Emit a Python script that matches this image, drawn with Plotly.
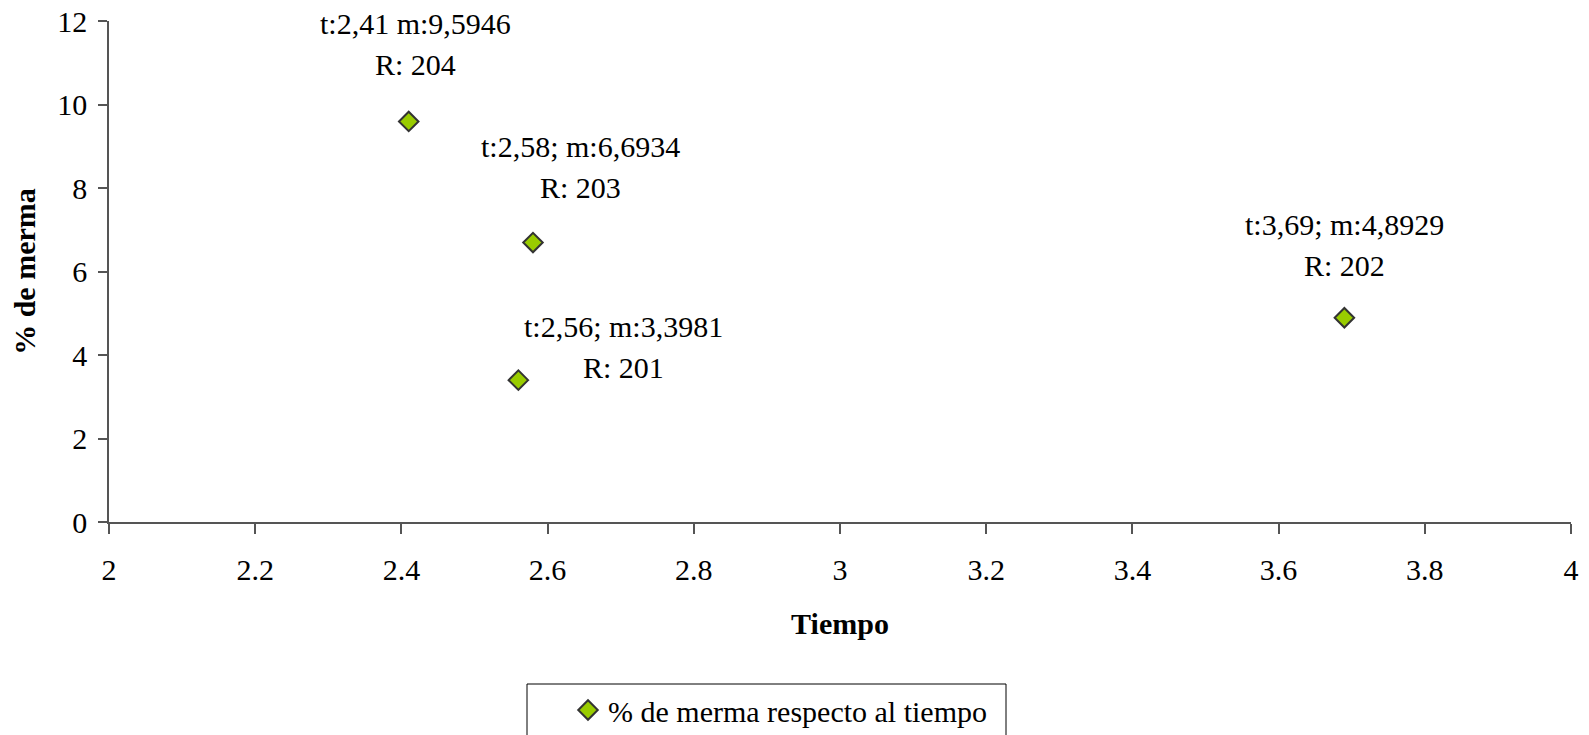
import plotly.graph_objects as go

tiempo = [2.41, 2.58, 2.56, 3.69]
merma = [9.5946, 6.6934, 3.3981, 4.8929]
etiquetas = ["t:2,41 m:9,5946<br>R: 204", "t:2,58; m:6,6934<br>R: 203",
             "t:2,56; m:3,3981<br>R: 201", "t:3,69; m:4,8929<br>R: 202"]
x_ticks = [2, 2.2, 2.4, 2.6, 2.8, 3, 3.2, 3.4, 3.6, 3.8, 4]
y_ticks = [0, 2, 4, 6, 8, 10, 12]

label_shift = [(7, 77), (48, 76), (105, 33), (0, 73)]
LINE_GAP = 41

FONT = "Times New Roman, Liberation Serif, serif"
FS = 30

fig = go.Figure()
fig.add_trace(go.Scatter(
    x=tiempo, y=merma, mode="markers",
    name="% de merma respecto al tiempo",
    marker=dict(symbol="diamond", size=15, color="#99CC00",
                line=dict(color="#333333", width=2)),
))

for xv, yv, txt, (dx, dy) in zip(tiempo, merma, etiquetas, label_shift):
    lines = txt.split("<br>")
    for i, ln in enumerate(lines):
        off = (len(lines) - 1) / 2 - i
        fig.add_annotation(x=xv, y=yv, xref="x", yref="y", text=ln, showarrow=False,
                           xshift=dx, yshift=dy + off * LINE_GAP,
                           xanchor="center", yanchor="middle",
                           font=dict(family=FONT, size=FS, color="black"))

# page coords: plot area left=109, top=21, bottom=522, width=1462, height=501
fig.add_shape(type="rect", xref="paper", yref="paper",
              x0=(527 - 109) / 1462, x1=(1006 - 109) / 1462,
              y0=(522 - 684) / 501, y1=(522 - 760) / 501,
              line=dict(color="black", width=1), fillcolor="rgba(0,0,0,0)")

fig.update_layout(
    width=1589, height=735,
    margin=dict(l=101, r=26, t=13, b=221, autoexpand=False),
    paper_bgcolor="white", plot_bgcolor="white",
    font=dict(family=FONT, size=FS, color="black"),
    showlegend=True,
    legend=dict(orientation="h", x=(568 - 109) / 1462, y=(522 - 684) / 501,
                xanchor="left", yanchor="top", bgcolor="rgba(0,0,0,0)",
                font=dict(family=FONT, size=FS, color="black")),
    xaxis=dict(range=[2, 4], tickvals=x_ticks, ticktext=[str(v) for v in x_ticks],
               showgrid=False, zeroline=False, showline=True, linecolor="#555555", linewidth=1.5,
               ticks="outside", ticklen=10, tickcolor="#555555", tickwidth=1.5,
               ticklabelstandoff=10, automargin=False, ticklabeloverflow="allow",
               title=dict(text="<b>Tiempo</b>", standoff=28,
                          font=dict(family=FONT, size=FS))),
    yaxis=dict(range=[0, 12], tickvals=y_ticks, showgrid=False, zeroline=False,
               showline=True, linecolor="#555555", linewidth=1.5,
               ticks="outside", ticklen=9, tickcolor="#555555", tickwidth=1.5,
               ticklabelstandoff=5, automargin=False, ticklabeloverflow="allow",
               title=dict(text="<b>% de merma</b>", standoff=17,
                          font=dict(family=FONT, size=FS))),
)

fig.write_html("out.html")
